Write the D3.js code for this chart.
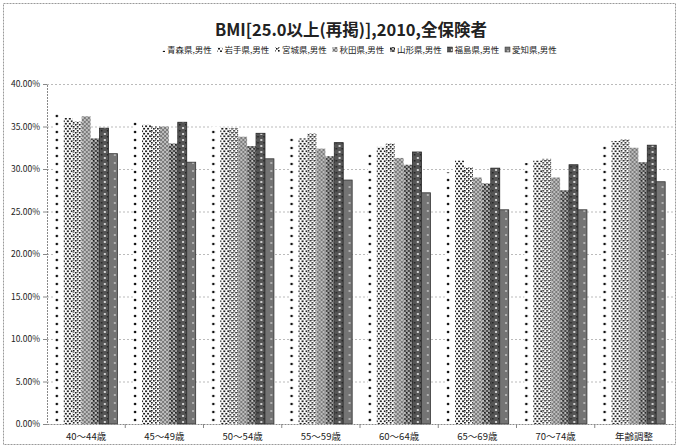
<!DOCTYPE html>
<html>
<head>
<meta charset="utf-8">
<script src="https://cdn.jsdelivr.net/npm/d3@7"></script>
<style>
  html, body { margin: 0; padding: 0; background: #fff; }
  svg { display: block; font-family: "Noto Sans CJK JP", "Noto Sans", sans-serif; }
</style>
</head>
<body>
<svg id="chart" width="681" height="448"></svg>
<script>
// Age groups on the x axis
const categories = ["40～44歳", "45～49歳", "50～54歳", "55～59歳", "60～64歳", "65～69歳", "70～74歳", "年齢調整"];

// Series (prefecture, male)
const seriesNames = ["青森県,男性", "岩手県,男性", "宮城県,男性", "秋田県,男性", "山形県,男性", "福島県,男性", "愛知県,男性"];

// Share with BMI 25.0 or higher, in percent
const aomori    = [36.6, 35.8, 35.0, 34.0, 32.0, 29.6, 30.7, 33.0];
const iwate     = [36.0, 35.2, 34.9, 33.6, 32.6, 31.0, 31.0, 33.3];
const miyagi    = [35.6, 35.0, 34.8, 34.2, 33.0, 30.2, 31.2, 33.5];
const akita     = [36.2, 35.0, 33.8, 32.4, 31.3, 29.0, 29.0, 32.5];
const yamagata  = [33.6, 33.0, 32.7, 31.5, 30.5, 28.3, 27.5, 30.8];
const fukushima = [34.8, 35.5, 34.2, 33.1, 32.0, 30.1, 30.5, 32.8];
const aichi     = [31.8, 30.8, 31.2, 28.7, 27.2, 25.2, 25.2, 28.5];

const yTicks = [0, 5, 10, 15, 20, 25, 30, 35, 40];

const seriesValues = [aomori, iwate, miyagi, akita, yamagata, fukushima, aichi];

const svg = d3.select("#chart");

// ---- fill patterns (monochrome print style) ----
const defs = svg.append("defs");
function pattern(id, w, h, bg, draw) {
  const p = defs.append("pattern").attr("id", id)
    .attr("patternUnits", "userSpaceOnUse").attr("width", w).attr("height", h);
  p.append("rect").attr("width", w).attr("height", h).attr("fill", bg);
  draw(p);
}
// sparse dots
pattern("p0", 9, 8, "#fff", p => {
  p.append("circle").attr("cx", 2).attr("cy", 4).attr("r", 1.3).attr("fill", "#111");
});
// diagonal dots
pattern("p1", 4, 5, "#fff", p => {
  p.append("circle").attr("cx", 1).attr("cy", 1.2).attr("r", 1.05).attr("fill", "#111");
  p.append("circle").attr("cx", 3).attr("cy", 3.7).attr("r", 1.05).attr("fill", "#111");
});
// small diamonds / x's
pattern("p2", 4, 4, "#fff", p => {
  p.append("rect").attr("x", 0).attr("y", 0).attr("width", 1.6).attr("height", 1.6).attr("fill", "#111");
  p.append("rect").attr("x", 2).attr("y", 2).attr("width", 1.6).attr("height", 1.6).attr("fill", "#111");
  p.append("rect").attr("x", 2).attr("y", 0).attr("width", 1).attr("height", 1).attr("fill", "#777");
});
// light gray cross-hatch
pattern("p3", 4, 4, "#bdbdbd", p => {
  p.append("path").attr("d", "M0,0L4,4M4,0L0,4").attr("stroke", "#6a6a6a").attr("stroke-width", 0.8);
});
// dark checker with white specks
pattern("p4", 4, 4, "#4a4a4a", p => {
  p.append("rect").attr("x", 0).attr("y", 0).attr("width", 2).attr("height", 2).attr("fill", "#bbb");
  p.append("rect").attr("x", 2).attr("y", 2).attr("width", 2).attr("height", 2).attr("fill", "#999");
  p.append("rect").attr("x", 2).attr("y", 0).attr("width", 1).attr("height", 1).attr("fill", "#111");
});
// dark with white dots
pattern("p5", 6, 6, "#555", p => {
  p.append("circle").attr("cx", 2).attr("cy", 2).attr("r", 1.1).attr("fill", "#eee");
  p.append("rect").attr("x", 4).attr("y", 4).attr("width", 1.5).attr("height", 1.5).attr("fill", "#222");
});
// medium gray solid with few specks
pattern("p6", 8, 8, "#747474", p => {
  p.append("circle").attr("cx", 4).attr("cy", 3).attr("r", 0.9).attr("fill", "#ccc");
});

const strokes = [null, null, null, null, null, "#222", "#333"];

// ---- layout ----
const x0 = d3.scaleBand().domain(categories).range([47, 673]).paddingInner(0.2).paddingOuter(0.1);
const x1 = d3.scaleBand().domain(seriesNames).range([0, x0.bandwidth()]);
const y = d3.scaleLinear().domain([0, 40]).range([424, 84]);

// outer chart frame
svg.append("rect").attr("x", 3.5).attr("y", 3.5).attr("width", 672).attr("height", 441)
  .attr("fill", "none").attr("stroke", "#999").attr("stroke-dasharray", "2,1");

// title
svg.append("text").attr("x", 351).attr("y", 36).attr("text-anchor", "middle")
  .attr("font-size", 16.5).attr("font-weight", "bold").attr("fill", "#222")
  .text("BMI[25.0以上(再掲)],2010,全保険者");

// legend
const legend = svg.append("g");
seriesNames.forEach((name, i) => {
  const lx = 160 + i * 57.5;
  legend.append("rect").attr("x", lx).attr("y", 47).attr("width", 5).attr("height", 5)
    .attr("fill", `url(#p${i})`).attr("stroke", strokes[i] || "none").attr("stroke-width", 0.5);
  legend.append("text").attr("x", lx + 7).attr("y", 53).attr("font-size", 8.5).attr("fill", "#222")
    .text(name);
});

// gridlines
svg.append("g").selectAll("line").data(yTicks.filter(t => t > 0)).join("line")
  .attr("x1", 47).attr("x2", 673)
  .attr("y1", d => y(d) + 0.5).attr("y2", d => y(d) + 0.5)
  .attr("stroke", "#aaa").attr("stroke-width", 0.8).attr("stroke-dasharray", "2,2");

// y axis
const yAxis = d3.axisLeft(y).tickValues(yTicks).tickSize(4).tickPadding(3)
  .tickFormat(d => d.toFixed(2) + "%");
const gy = svg.append("g").attr("transform", "translate(47,0)").call(yAxis);
gy.select(".domain").attr("stroke", "#888").attr("stroke-dasharray", "2,1");
gy.selectAll(".tick line").attr("stroke", "#888");
gy.selectAll(".tick text").attr("font-size", 8.5).attr("fill", "#222")
  .attr("font-family", "\"Noto Sans CJK JP\", sans-serif");

// bars
const groups = svg.append("g").selectAll("g").data(categories).join("g")
  .attr("transform", d => `translate(${x0(d)},0)`);
groups.selectAll("rect")
  .data((c, ci) => seriesNames.map((s, si) => ({ s, si, v: seriesValues[si][ci] })))
  .join("rect")
  .attr("x", d => x1(d.s))
  .attr("y", d => y(d.v))
  .attr("width", x1.bandwidth())
  .attr("height", d => y(0) - y(d.v))
  .attr("fill", d => `url(#p${d.si})`)
  .attr("stroke", d => strokes[d.si] || "none")
  .attr("stroke-width", 0.8);

// x axis
const xAxis = d3.axisBottom(x0).tickSize(0).tickPadding(9);
const gx = svg.append("g").attr("transform", "translate(0,424)").call(xAxis);
gx.select(".domain").attr("stroke", "#888").attr("stroke-dasharray", "2,1");
gx.selectAll(".tick text").attr("font-size", 9.5).attr("fill", "#222")
  .attr("font-family", "\"Noto Sans CJK JP\", sans-serif");
// category separators
svg.append("g").selectAll("line").data(categories.slice(1)).join("line")
  .attr("x1", d => x0(d) - x0.step() * x0.paddingInner() / 2)
  .attr("x2", d => x0(d) - x0.step() * x0.paddingInner() / 2)
  .attr("y1", 424).attr("y2", 428).attr("stroke", "#888");
</script>
</body>
</html>
